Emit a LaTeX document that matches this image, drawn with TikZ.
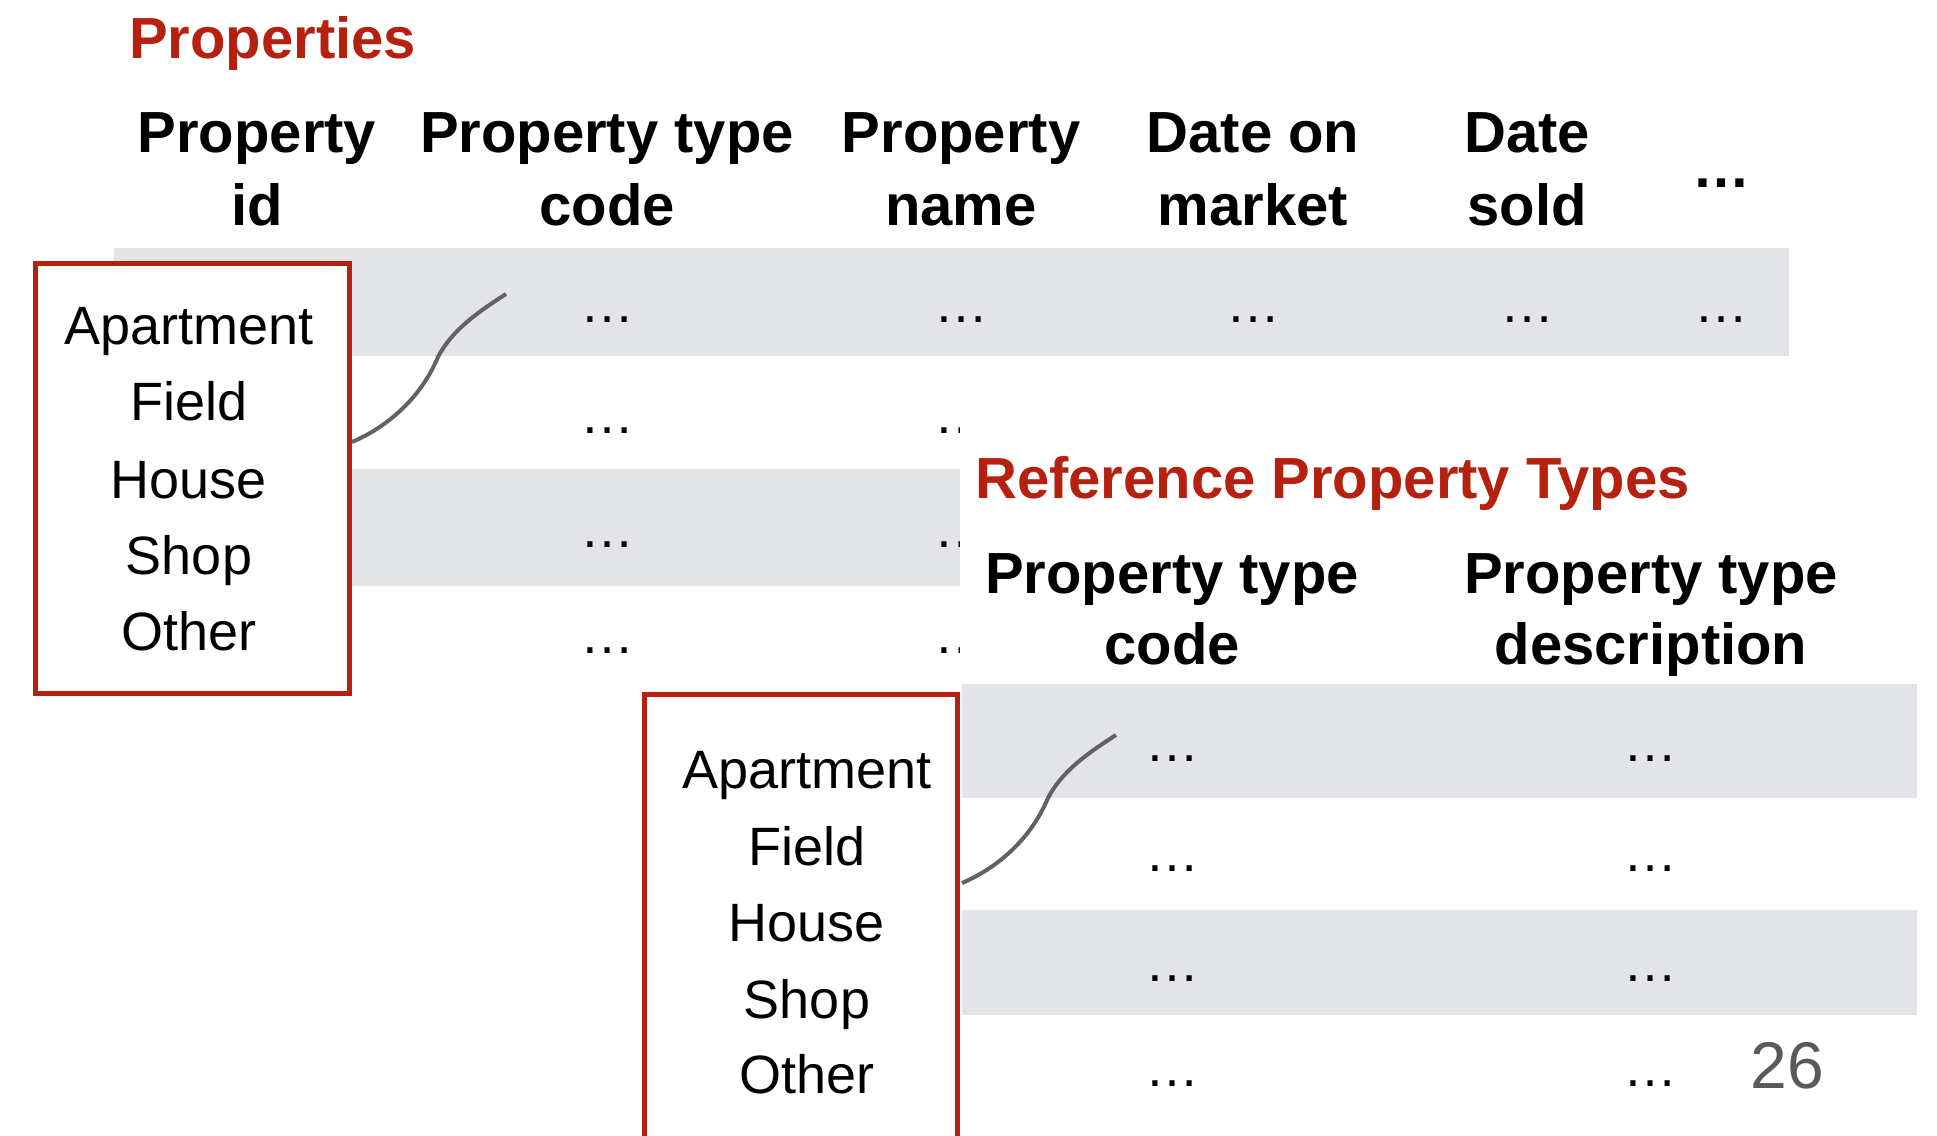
\documentclass[tikz,border=0pt]{standalone}
\usepackage{fontspec}
\setmainfont{Liberation Sans}
\definecolor{accent}{HTML}{B5200F}
\definecolor{bandgray}{HTML}{E3E4E8}
\definecolor{linkgray}{HTML}{626262}
\definecolor{pagenum}{HTML}{5A5A5A}
\begin{document}
\begin{tikzpicture}[x=1pt,y=-1pt,
  title/.style={text=accent, font=\bfseries\fontsize{58}{70}\selectfont, anchor=base west, inner sep=0},
  hdr/.style={font=\bfseries\fontsize{58}{70}\selectfont, anchor=base, inner sep=0},
  cell/.style={font=\fontsize{54}{64}\selectfont, anchor=base, inner sep=0},
  item/.style={font=\fontsize{54}{64}\selectfont, anchor=base, inner sep=0},
  listbox/.style={draw=accent, line width=5pt, fill=white, inner sep=0, anchor=north west},
  bandfill/.style={fill=bandgray, draw=none},
  link/.style={draw=linkgray, line width=4pt}]
\useasboundingbox (0,0) rectangle (1937,1135);
\clip (0,0) rectangle (1937,1135);

% ---------- Table 1: Properties ----------
\fill[bandfill] (114,248) rectangle (1789,356);
\fill[bandfill] (114,469) rectangle (960,586);

\node[title] (t1) at (129,58) {Properties};

\node[hdr] (h1a) at (257,152) {Property};
\node[hdr] (h1b) at (257,225) {id};
\node[hdr] (h2a) at (607,152) {Property type};
\node[hdr] (h2b) at (607,225) {code};
\node[hdr] (h3a) at (961,152) {Property};
\node[hdr] (h3b) at (961,225) {name};
\node[hdr] (h4a) at (1253,152) {Date on};
\node[hdr] (h4b) at (1253,225) {market};
\node[hdr] (h5a) at (1527,152) {Date};
\node[hdr] (h5b) at (1527,225) {sold};
\node[hdr] (h6) at (1721,187) {…};

\foreach \cx [count=\i] in {607,961,1253,1527,1721}
  \node[cell] (ra\i) at (\cx,322) {…};
\foreach \ry [count=\j] in {433,547,653}{
  \node[cell] (rb\j) at (607,\ry) {…};
  \node[cell] (rc\j) at (961,\ry) {…};
}

\node[listbox, minimum width=314pt, minimum height=430pt] (lbox1) at (33,261) {};
\foreach \w/\by [count=\k] in {Apartment/344,Field/420,House/498,Shop/574,Other/650}
  \node[item] (la\k) at (189,\by) {\w};

\coordinate (c1s) at (352,442);
\coordinate (c1e) at (506,294);
\draw[link] (c1s) .. controls (385,428) and (420,400) .. (438,357)
               .. controls (452,330) and (478,312) .. (c1e);

% ---------- Table 2: Reference Property Types ----------
\fill[white] (960,362) rectangle (1937,1135);
\fill[bandfill] (962,684) rectangle (1917,798);
\fill[bandfill] (962,910) rectangle (1917,1015);

\node[title] (t2) at (975,498) {Reference Property Types};

\node[hdr] (g1a) at (1172,593) {Property type};
\node[hdr] (g1b) at (1172,664) {code};
\node[hdr] (g2a) at (1651,593) {Property type};
\node[hdr] (g2b) at (1651,664) {description};

\foreach \ry [count=\j] in {761,871,981,1086}{
  \node[cell] (sa\j) at (1172,\ry) {…};
  \node[cell] (sb\j) at (1650,\ry) {…};
}

\node[listbox, minimum width=313pt, minimum height=520pt] (lbox2) at (642,692) {};
\foreach \w/\by [count=\k] in {Apartment/788,Field/865,House/941,Shop/1018,Other/1093}
  \node[item] (lb\k) at (807,\by) {\w};

\coordinate (c2s) at (962,883);
\coordinate (c2e) at (1116,735);
\draw[link] (c2s) .. controls (995,869) and (1030,841) .. (1048,798)
               .. controls (1062,771) and (1088,753) .. (c2e);

\node[font=\fontsize{66}{70}\selectfont, text=pagenum, anchor=base, inner sep=0] (pg) at (1787,1088) {26};
\end{tikzpicture}
\end{document}
